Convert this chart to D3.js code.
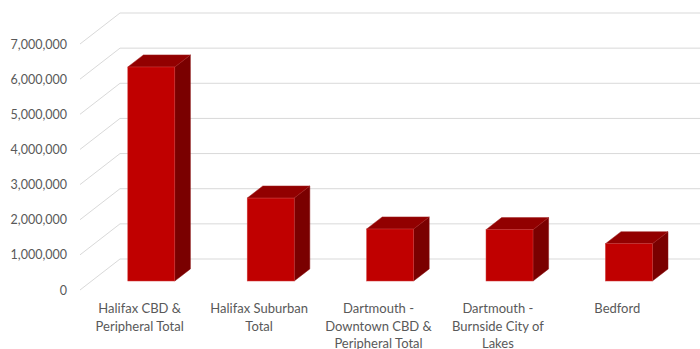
<!DOCTYPE html>
<html>
<head>
<meta charset="utf-8">
<script src="https://cdn.jsdelivr.net/npm/d3@7"></script>
<style>
  html, body { margin: 0; padding: 0; background: #fff; }
  svg { display: block; }
  text { font-family: Lato, "Open Sans", sans-serif; fill: #595959; }
</style>
</head>
<body>
<svg id="chart" width="700" height="349"></svg>
<script>
// ---- data ----
const categories = [
  "Halifax CBD & Peripheral Total",
  "Halifax Suburban Total",
  "Dartmouth - Downtown CBD & Peripheral Total",
  "Dartmouth - Burnside City of Lakes",
  "Bedford"
];
// label line breaks as shown in the chart
const categoryLines = [
  ["Halifax CBD &", "Peripheral Total"],
  ["Halifax Suburban", "Total"],
  ["Dartmouth -", "Downtown CBD &", "Peripheral Total"],
  ["Dartmouth -", "Burnside City of", "Lakes"],
  ["Bedford"]
];
const values = [6090000, 2360000, 1480000, 1460000, 1060000];
const yTicks = [0, 1000000, 2000000, 3000000, 4000000, 5000000, 6000000, 7000000];

// ---- layout ----
const W = 700, H = 349;
const backLeft = 120, band = 119.4;
const depthX = -40, depthY = 31;     // offset from back wall to front plane
const zBarFront = 0.71, zBarBack = 0.32;
const barW = 47;

const svg = d3.select("#chart");

const x = d3.scaleBand().domain(categories)
  .range([backLeft, backLeft + band * categories.length]).paddingInner(0).paddingOuter(0);
const y = d3.scaleLinear().domain([0, 7000000]).range([259, 13]);

const proj = (px, py, z) => [px + depthX * z, py + depthY * z];

// back wall gridlines + side wall lines
const grid = svg.append("g");
yTicks.forEach(t => {
  const yb = y(t);
  grid.append("line")
    .attr("x1", backLeft).attr("x2", W + 20)
    .attr("y1", yb).attr("y2", yb)
    .attr("stroke", "#d9d9d9").attr("stroke-width", 1);
  const f = proj(backLeft, yb, 1);
  grid.append("line")
    .attr("x1", f[0]).attr("y1", f[1])
    .attr("x2", backLeft).attr("y2", yb)
    .attr("stroke", "#d9d9d9").attr("stroke-width", 1);
});

// y axis labels on front plane
const yFront = y.copy().range(y.range().map(v => v + depthY));
const yAxis = d3.axisLeft(yFront).tickValues(yTicks)
  .tickFormat(d3.format(",")).tickSize(0).tickPadding(13);
const ga = svg.append("g").attr("transform", `translate(${backLeft + depthX},0)`).call(yAxis);
ga.select(".domain").remove();
ga.selectAll("text").attr("font-size", 12.5).attr("font-family", "Lato, sans-serif").attr("fill", "#595959");

// bars
const bars = svg.append("g");
categories.forEach((c, i) => {
  const cx = x(c) + x.bandwidth() / 2;
  const x0 = cx - barW / 2, x1 = cx + barW / 2;
  const yTop = y(values[i]), yBot = y(0);
  const F = (px, py) => proj(px, py, zBarFront);
  const B = (px, py) => proj(px, py, zBarBack);
  const poly = pts => pts.map(p => p.join(",")).join(" ");
  // side (right)
  bars.append("polygon")
    .attr("points", poly([F(x1, yTop), B(x1, yTop), B(x1, yBot), F(x1, yBot)]))
    .attr("fill", "#7a0000").attr("stroke", "#8a1010").attr("stroke-width", 0.5);
  // top
  bars.append("polygon")
    .attr("points", poly([F(x0, yTop), B(x0, yTop), B(x1, yTop), F(x1, yTop)]))
    .attr("fill", "#920000").attr("stroke", "#a02020").attr("stroke-width", 0.5);
  // front
  const f0 = F(x0, yTop), f1 = F(x1, yBot);
  bars.append("rect")
    .attr("x", f0[0]).attr("y", f0[1])
    .attr("width", f1[0] - f0[0]).attr("height", f1[1] - f0[1])
    .attr("fill", "#c00000").attr("stroke", "#d04040").attr("stroke-width", 0.5);
});

// category labels on front plane
const labels = svg.append("g");
categories.forEach((c, i) => {
  const cx = x(c) + x.bandwidth() / 2 + depthX;
  const t = labels.append("text")
    .attr("text-anchor", "middle").attr("font-size", 13);
  categoryLines[i].forEach((ln, k) => {
    t.append("tspan").attr("x", cx).attr("y", 313 + k * 17.5).text(ln);
  });
});
</script>
</body>
</html>
